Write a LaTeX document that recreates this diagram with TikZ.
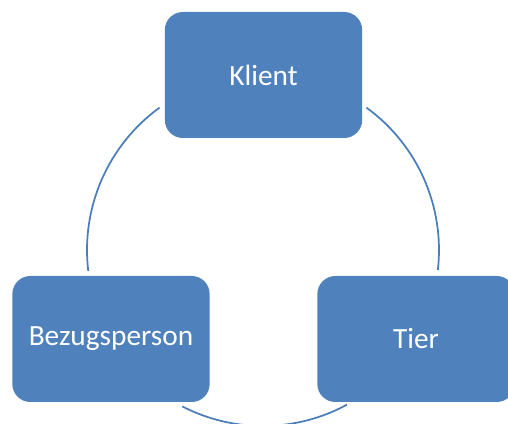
\documentclass[tikz,border=0pt]{standalone}
\usepackage{fontspec}
\setmainfont{Carlito}
\definecolor{boxblue}{HTML}{4F81BD}
\definecolor{lineblue}{HTML}{4A7EBB}
\begin{document}
\begin{tikzpicture}[x=0.75pt,y=-0.75pt,
  box/.style={rectangle, rounded corners=13.5pt, fill=boxblue, draw=none,
    minimum width=148pt, minimum height=94.5pt, inner sep=0pt,
    text=white, font=\fontsize{22}{26}\selectfont},
  ring/.style={draw=lineblue, line width=1.3pt}]
\useasboundingbox (0,0) rectangle (508,424);
\clip (0,0) rectangle (508,424);
\coordinate (c) at (263,250);
\draw[ring] (c) ++(126:132pt) arc[start angle=126, end angle=186.8, radius=132pt];
\draw[ring] (c) ++(54:132pt) arc[start angle=54, end angle=-6.5, radius=132pt];
\draw[ring] (c) ++(242.7:132pt) arc[start angle=242.7, end angle=298.5, radius=132pt];
\node[box] (klient) at (263.5,75) {Klient};
\node[box] (bezug) at (111,339) {Bezugsperson};
\node[box] (tier) at (416,339) {Tier};
\end{tikzpicture}
\end{document}
